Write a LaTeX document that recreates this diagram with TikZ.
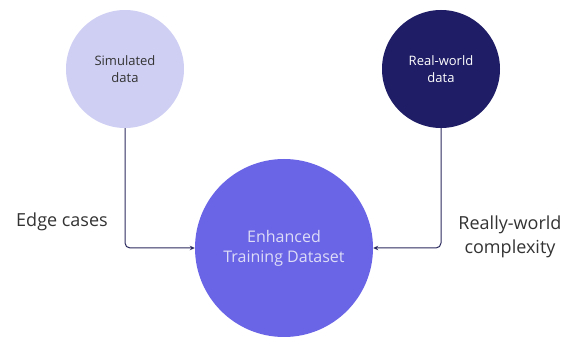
\documentclass[tikz,border=0pt]{standalone}
\usepackage{fontspec}
\setmainfont{Open Sans}
\usetikzlibrary{arrows.meta, positioning}

\definecolor{simfill}{HTML}{CFCFF4}
\definecolor{realfill}{HTML}{1E1D66}
\definecolor{enhfill}{HTML}{6A64E6}
\definecolor{linecol}{HTML}{2B2A5E}
\definecolor{labelcol}{HTML}{333333}

\begin{document}
\begin{tikzpicture}[x=1pt, y=1pt,
blob/.style={circle, minimum size=118pt, inner sep=0pt, align=center, font=\fontsize{13}{17}\selectfont},
blob-light/.style={blob, fill=simfill, text=labelcol},
blob-dark/.style={blob, fill=realfill, text=white},
blob-big/.style={blob, minimum size=178pt, fill=enhfill, text=simfill!70!white, font=\fontsize{16}{20}\selectfont},
tag/.style={text=labelcol, align=center, font=\fontsize{18}{24}\selectfont},
line/.style={draw=linecol, line width=1pt, rounded corners=5pt, -{Stealth[length=5pt, width=4.5pt]}}
]
\useasboundingbox (0,0) rectangle (574,-339);

\node[blob-light] (simulated) at (125,-69) {Simulated\\data};
\node[blob-dark] (realworld) at (441,-69) {Real-world\\data};
\node[blob-big] (enhanced) at (284,-248) {Enhanced\\Training Dataset};
\node[tag] (edge) at (62,-222) {Edge cases};
\node[tag] (complexity) at (510,-237) {Really-world\\complexity};

\path [line] (simulated) |- (enhanced);
\path [line] (realworld) |- (enhanced);
\end{tikzpicture}
\end{document}
